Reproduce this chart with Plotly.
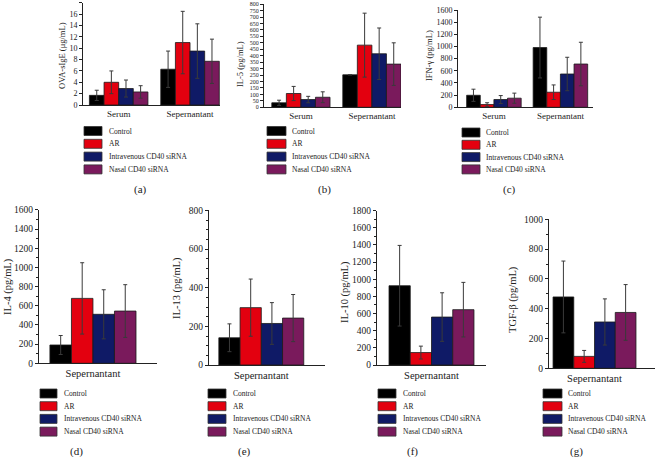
import plotly.graph_objects as go

W, H = 655, 457
FONT = "Liberation Serif"

groups = ["Control", "AR", "Intravenous CD40 siRNA", "Nasal CD40 siRNA"]
colors = ["#000000", "#e3000f", "#0f1a66", "#7a1a5c"]

top_categories = ["Serum", "Sepernantant"]
bottom_categories = ["Sepernantant"]

# (a) OVA-sIgE (ug/mL): values per group [Serum, Sepernantant]
a_values = [[1.7, 6.3], [4.0, 11.0], [2.9, 9.5], [2.3, 7.7]]
a_errors = [[0.9, 3.2], [2.0, 5.5], [1.5, 4.8], [1.1, 3.9]]
# (b) IL-5 (pg/mL)
b_values = [[35, 252], [107, 482], [60, 415], [78, 335]]
b_errors = [[20, 0], [55, 248], [25, 200], [42, 165]]
# (c) IFN-gamma (pg/mL)
c_values = [[198, 983], [45, 248], [128, 548], [150, 712]]
c_errors = [[100, 500], [30, 120], [65, 275], [83, 358]]
# (d) IL-4
d_values = [[191], [677], [511], [545]]
d_errors = [[99], [372], [256], [275]]
# (e) IL-13
e_values = [[141], [297], [215], [243]]
e_errors = [[72], [148], [108], [122]]
# (f) IL-10
f_values = [[924], [145], [559], [645]]
f_errors = [[470], [75], [283], [318]]
# (g) TGF-beta
g_values = [[479], [80], [311], [375]]
g_errors = [[241], [40], [155], [187]]

titles = ["OVA-sIgE (μg/mL)", "IL-5 (pg/mL)", "IFN-γ (pg/mL)",
          "IL-4 (pg/mL)", "IL-13 (pg/mL)", "IL-10 (pg/mL)", "TGF-β (pg/mL)"]
panel_letters = ["(a)", "(b)", "(c)", "(d)", "(e)", "(f)", "(g)"]
yranges = [[0, 18.02], [0, 801], [0, 1601], [0, 1601], [0, 801], [0, 1801], [0, 1001]]
ydticks = [2, 50, 200, 200, 200, 200, 200]

# layout specs (pixels)
panels = [
    dict(v=a_values, e=a_errors, cats=top_categories, x0=83, x1=220, yb=105, yt=2.7, xr=[-0.50, 1.42], top=True,
         tfont=8, minor=None, title_x=62, title_y=56, leg=(84, 102, 107, 131, 12.8), lab=(140, 189)),
    dict(v=b_values, e=b_errors, cats=top_categories, x0=264, x1=401, yb=107.3, yt=4, xr=[-0.52, 1.41], top=True,
         tfont=6, minor=None, title_x=240, title_y=64, leg=(267, 286, 290, 131, 12.8), lab=(324, 189)),
    dict(v=c_values, e=c_errors, cats=top_categories, x0=458, x1=593, yb=107.3, yt=10, xr=[-0.54, 1.49], top=True,
         tfont=8, minor=None, title_x=429, title_y=56, leg=(462, 480, 484, 132.5, 12.3), lab=(509, 190)),
    dict(v=d_values, e=d_errors, cats=bottom_categories, x0=39, x1=157, yb=363.3, yt=209.8, xr=[-0.514, 0.61], top=False,
         tfont=9.5, minor=100, title_x=8, title_y=287, leg=(40, 57, 62, 393.5, 12.7), lab=(76, 451)),
    dict(v=e_values, e=e_errors, cats=bottom_categories, x0=209, x1=325, yb=365, yt=210.3, xr=[-0.505, 0.615], top=False,
         tfont=9.5, minor=50, title_x=177, title_y=288, leg=(208, 226, 231, 393.5, 12.7), lab=(244, 451)),
    dict(v=f_values, e=f_errors, cats=bottom_categories, x0=377, x1=486, yb=365, yt=210.5, xr=[-0.526, 0.526], top=False,
         tfont=9.5, minor=100, title_x=345, title_y=292, leg=(378, 396, 401, 393.5, 12.7), lab=(412, 451)),
    dict(v=g_values, e=g_errors, cats=bottom_categories, x0=549, x1=655, yb=368.3, yt=219.2, xr=[-0.45, 0.598], top=False,
         tfont=9.5, minor=100, title_x=513, title_y=300, leg=(543, 562, 566, 393.5, 12.7), lab=(576, 451)),
]

def px(x):
    return x / W

def py(y):
    return 1 - y / H

fig = go.Figure()
layout = dict(width=W, height=H, margin=dict(l=0, r=0, t=0, b=0, pad=0, autoexpand=False),
              paper_bgcolor="white", plot_bgcolor="white",
              barmode="group", bargap=0.18, bargroupgap=0, showlegend=False,
              font=dict(family=FONT, color="#222"))
annotations = []
shapes = []

for i, p in enumerate(panels):
    n = "" if i == 0 else str(i + 1)
    for gi, gname in enumerate(groups):
        fig.add_trace(go.Bar(
            x=p["cats"], y=p["v"][gi], name=gname,
            marker=dict(color=colors[gi], line=dict(color="#1a1a1a", width=0.8)),
            error_y=dict(type="data", array=p["e"][gi], visible=True,
                         color="#3a3a3a", thickness=1, width=2),
            xaxis="x" + n, yaxis="y" + n, showlegend=False))
    layout["xaxis" + n] = dict(
        domain=[px(p["x0"]), px(p["x1"])], anchor="y" + n, type="category",
        range=p["xr"], showline=True, linecolor="#222", linewidth=1,
        ticks="", showgrid=False, zeroline=False, automargin=False,
        tickfont=dict(family=FONT, size=9 if p["top"] else 10.5, color="#222"))
    yaxis = dict(
        domain=[py(p["yb"]), py(p["yt"])], anchor="x" + n, range=yranges[i],
        dtick=ydticks[i], tick0=0, showline=True, linecolor="#222", linewidth=1,
        ticks="outside", ticklen=3, tickwidth=1, tickcolor="#222",
        showgrid=False, zeroline=False, automargin=False,
        tickfont=dict(family=FONT, size=p["tfont"], color="#222"))
    if p["minor"]:
        yaxis["minor"] = dict(ticks="outside", dtick=p["minor"], ticklen=2,
                              tickcolor="#222", showgrid=False)
    layout["yaxis" + n] = yaxis

    annotations.append(dict(
        x=px(p["title_x"]), y=py(p["title_y"]), xref="paper", yref="paper",
        xanchor="center", yanchor="middle",
        text=titles[i], textangle=-90, showarrow=False,
        font=dict(family=FONT, size=8.5 if p["top"] else 10.5, color="#222")))

    sx0, sx1, tx, ry0, step = p["leg"]
    for gi, gname in enumerate(groups):
        yy = ry0 + gi * step
        shapes.append(dict(type="rect", xref="paper", yref="paper",
                           x0=px(sx0), x1=px(sx1), y0=py(yy + 4.5), y1=py(yy - 4.5),
                           fillcolor=colors[gi], line=dict(color="#333", width=0.8)))
        annotations.append(dict(
            x=px(tx), y=py(yy), xref="paper", yref="paper", text=gname,
            xanchor="left", yanchor="middle", showarrow=False,
            font=dict(family=FONT, size=7.5, color="#222")))
    annotations.append(dict(
        x=px(p["lab"][0]), y=py(p["lab"][1]), xref="paper", yref="paper",
        xanchor="center", yanchor="middle",
        text=panel_letters[i], showarrow=False,
        font=dict(family=FONT, size=11, color="#222")))

layout["annotations"] = annotations
layout["shapes"] = shapes
fig.update_layout(**layout)
fig.write_html("out.html", config={"displayModeBar": False},
               post_script="document.body.style.margin='0';")
